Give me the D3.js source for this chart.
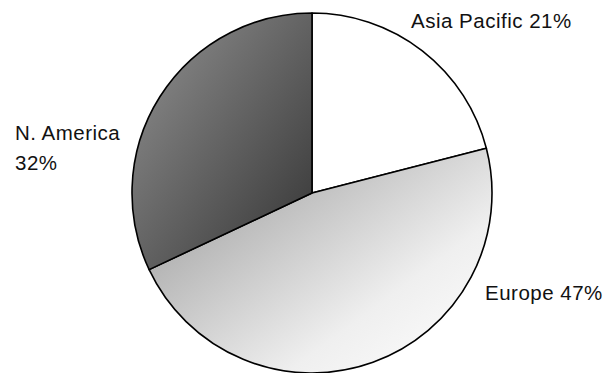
<!DOCTYPE html>
<html>
<head>
  <meta charset="utf-8">
  <title>Revenue by region</title>
  <script src="https://d3js.org/d3.v7.min.js"></script>
  <style>
    body { margin: 0; background: #fff; }
    svg { display: block; }
    .label { font-family: "Liberation Sans", Arial, sans-serif; font-size: 20.5px; letter-spacing: 0.5px; fill: #111; }
  </style>
</head>
<body>
  <div id="chart"></div>
  <script>
    // data
    const regions = ["Asia Pacific", "Europe", "N. America"];
    const shares = [21, 47, 32];

    const width = 614, height = 373;
    const cx = 312, cy = 193, radius = 180;

    // diagonal grey gradients, top-left -> bottom-right
    const grads = [
      null,
      { id: "gEurope", x2: 0.9, y2: 0.8, stops: [[0, "#939393"], [0.8, "#efefef"], [1, "#f8f8f8"]] },
      { id: "gNAm", x2: 1, y2: 1, stops: [[0, "#939393"], [1, "#333333"]] }
    ];

    // label layout (Excel-style placement, outside the pie)
    const labelLayout = [
      { x: 411, y: 27.5, lines: (n, p) => [n + " " + p + "%"] },
      { x: 485, y: 300, lines: (n, p) => [n + " " + p + "%"] },
      { x: 15, y: 139.5, lines: (n, p) => [n, p + "%"] }
    ];

    const svg = d3.select("#chart").append("svg")
      .attr("width", width)
      .attr("height", height);

    const defs = svg.append("defs");
    grads.forEach(g => {
      if (!g) return;
      const lg = defs.append("linearGradient")
        .attr("id", g.id)
        .attr("x1", "0").attr("y1", "0")
        .attr("x2", g.x2).attr("y2", g.y2);
      g.stops.forEach(s => {
        lg.append("stop").attr("offset", s[0]).attr("stop-color", s[1]);
      });
    });

    const pie = d3.pie().sort(null).value(d => d)(shares);
    const arc = d3.arc().innerRadius(0).outerRadius(radius);

    const g = svg.append("g").attr("transform", `translate(${cx},${cy})`);

    g.selectAll("path")
      .data(pie)
      .join("path")
      .attr("d", arc)
      .attr("fill", (d, i) => grads[i] ? `url(#${grads[i].id})` : "#ffffff")
      .attr("stroke", "#000")
      .attr("stroke-width", 1.6)
      .attr("stroke-linejoin", "round");

    regions.forEach((name, i) => {
      const lay = labelLayout[i];
      const t = svg.append("text")
        .attr("class", "label")
        .attr("x", lay.x)
        .attr("y", lay.y);
      lay.lines(name, shares[i]).forEach((s, j) => {
        t.append("tspan")
          .attr("x", lay.x)
          .attr("dy", j === 0 ? 0 : 30.5)
          .text(s);
      });
    });
  </script>
</body>
</html>
